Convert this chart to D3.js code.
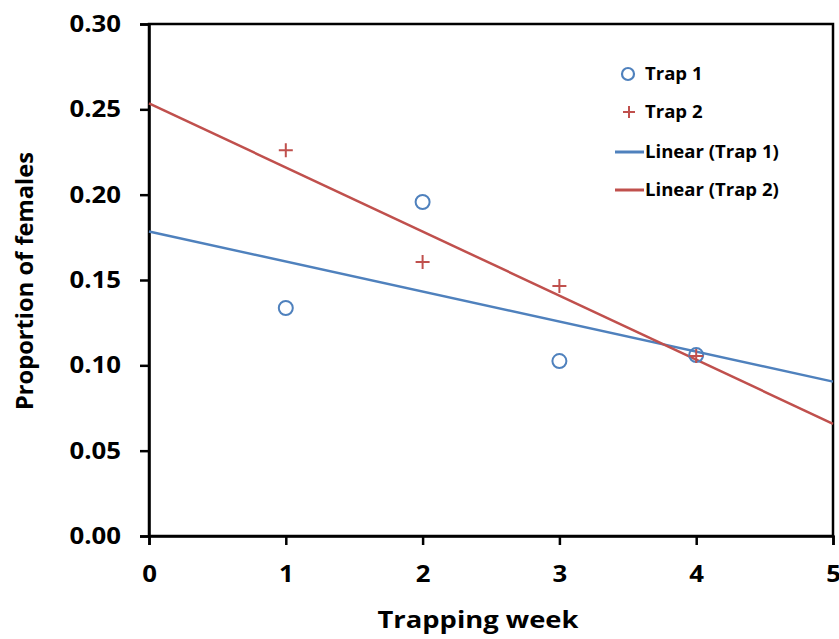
<!DOCTYPE html>
<html><head><meta charset="utf-8">
<script src="https://cdn.jsdelivr.net/npm/d3@7"></script>
<style>body{margin:0;background:#fff}svg{display:block}text{font-family:"Open Sans","Liberation Sans",sans-serif;font-weight:bold}</style>
</head><body><svg id="c" width="839" height="639"></svg>
<script>
const weeks = [1, 2, 3, 4];
const trap1 = [0.1336, 0.1957, 0.1025, 0.106];
const trap2 = [0.226, 0.1605, 0.1465, 0.1055];
const xTicks = [0, 1, 2, 3, 4, 5];
const yTicks = [0, 0.05, 0.10, 0.15, 0.20, 0.25, 0.30];
const legendLabels = ["Trap 1", "Trap 2", "Linear (Trap 1)", "Linear (Trap 2)"];

const blue = "#4F81BD", red = "#C0504D";
const svg = d3.select("#c");
const L = 149, R = 833, T = 24, B = 536;
const x = d3.scaleLinear().domain([0, 5]).range([L, R]);
const y = d3.scaleLinear().domain([0, 0.30]).range([B, T]);

function fit(xs, ys) {
  const mx = d3.mean(xs), my = d3.mean(ys);
  const s = d3.sum(xs, (v, i) => (v - mx) * (ys[i] - my)) / d3.sum(xs, v => (v - mx) ** 2);
  return { s, b: my - s * mx };
}
function stretch(sel, k) {
  sel.each(function () {
    const w = this.getComputedTextLength();
    d3.select(this).attr("textLength", w * k).attr("lengthAdjust", "spacingAndGlyphs");
  });
}

// frame
svg.append("rect").attr("x", L).attr("y", T).attr("width", R - L).attr("height", B - T)
  .attr("fill", "none").attr("stroke", "#000").attr("stroke-width", 2.5);

const xa = svg.append("g").attr("transform", `translate(0,${B})`)
  .call(d3.axisBottom(x).tickValues(xTicks).tickFormat(d3.format("d")).tickSize(9).tickPadding(21));
const ya = svg.append("g").attr("transform", `translate(${L},0)`)
  .call(d3.axisLeft(y).tickValues(yTicks).tickFormat(d3.format(".2f")).tickSize(9).tickPadding(19));
[xa, ya].forEach(a => {
  a.select(".domain").attr("stroke-width", 2.5);
  a.selectAll(".tick line").attr("stroke-width", 2.5);
  a.selectAll("text").style("font-size", "23px").attr("fill", "#000");
});
stretch(ya.selectAll("text"), 1.12);
stretch(xa.selectAll("text"), 1.12);

// trend lines
[[trap1, blue], [trap2, red]].forEach(([ys, c]) => {
  const f = fit(weeks, ys);
  svg.append("line").attr("x1", x(0)).attr("y1", y(f.b)).attr("x2", x(5)).attr("y2", y(f.b + 5 * f.s))
    .attr("stroke", c).attr("stroke-width", 2.5);
});

// points
svg.selectAll(".p1").data(weeks).join("circle")
  .attr("cx", d => x(d)).attr("cy", (d, i) => y(trap1[i])).attr("r", 7)
  .attr("fill", "none").attr("stroke", blue).attr("stroke-width", 2);
const cross = (g, cx, cy, s) => g.append("path").attr("d", `M${cx - s},${cy}H${cx + s}M${cx},${cy - s}V${cy + s}`)
  .attr("stroke", red).attr("stroke-width", 2).attr("fill", "none");
weeks.forEach((d, i) => cross(svg, x(d), y(trap2[i]), 7));

// legend
const lg = svg.append("g");
const ly = [74, 112, 152, 190];
lg.append("circle").attr("cx", 628).attr("cy", ly[0]).attr("r", 6).attr("fill", "none").attr("stroke", blue).attr("stroke-width", 2.2);
cross(lg, 629, ly[1], 6);
lg.append("line").attr("x1", 615).attr("x2", 644).attr("y1", ly[2]).attr("y2", ly[2]).attr("stroke", blue).attr("stroke-width", 3);
lg.append("line").attr("x1", 615).attr("x2", 644).attr("y1", ly[3]).attr("y2", ly[3]).attr("stroke", red).attr("stroke-width", 3);
lg.selectAll("text.lg").data(legendLabels).join("text").attr("class", "lg")
  .attr("x", (d, i) => i < 2 ? 645 : 645).attr("y", (d, i) => ly[i]).attr("dy", "0.36em")
  .style("font-size", "18px").text(d => d);
stretch(lg.selectAll("text.lg"), 1.03);

// titles
svg.append("text").attr("x", (L + R) / 2 - 13).attr("y", 628).attr("text-anchor", "middle").style("font-size", "23px")
  .attr("textLength", 201).attr("lengthAdjust", "spacingAndGlyphs").text("Trapping week");
svg.append("text").attr("transform", `translate(33,${(T + B) / 2 + 1}) rotate(-90)`).attr("text-anchor", "middle")
  .style("font-size", "24px").attr("textLength", 258).attr("lengthAdjust", "spacingAndGlyphs").text("Proportion of females");
</script></body></html>
